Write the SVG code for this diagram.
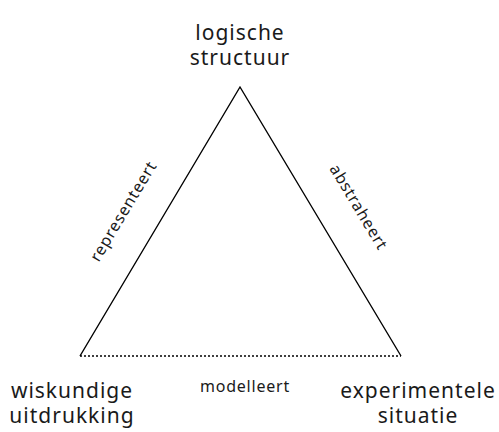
<svg xmlns="http://www.w3.org/2000/svg" width="499" height="432" viewBox="0 0 499 432">
<style>
text{font-family:"Noto Sans","Open Sans",sans-serif;fill:#1a1a1a;text-anchor:middle}
.n{font-size:21px;letter-spacing:1px}
.e{font-size:16px;letter-spacing:0.8px}
.l{fill:none;stroke:#000;stroke-width:1.4}
</style>
<rect width="499" height="432" fill="#fff"/>
<g id="connectors">
<path class="l" d="M80,356 L240,87 L401,356"/>
<path class="l" d="M80,356 L401,356" stroke-dasharray="2,2" stroke-width="1.3"/>
<text class="e" transform="translate(128,214) rotate(-59)">representeert</text>
<text class="e" transform="translate(354,210) rotate(59)">abstraheert</text>
<text class="e" x="245" y="392">modelleert</text>
</g>
<g id="logische"><text class="n" x="240" y="40">logische</text><text class="n" x="240" y="65">structuur</text></g>
<g id="wiskundige"><text class="n" x="72" y="398">wiskundige</text><text class="n" x="72" y="423">uitdrukking</text></g>
<g id="experimentele"><text class="n" x="418" y="398">experimentele</text><text class="n" x="418" y="423">situatie</text></g>
</svg>
